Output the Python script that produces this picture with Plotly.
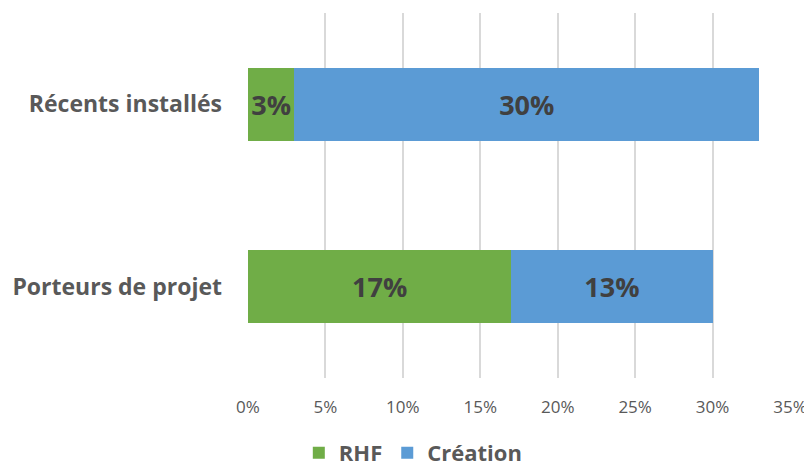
import plotly.graph_objects as go

categories = ["Porteurs de projet", "Récents installés"]
rhf = [17, 3]
creation = [13, 30]
series_names = ["RHF", "Création"]
tick_vals = [0, 5, 10, 15, 20, 25, 30, 35]

FONT = "Open Sans"
fig = go.Figure()
for name, vals, color in [(series_names[0], rhf, "#70AD47"), (series_names[1], creation, "#5B9BD5")]:
    fig.add_trace(go.Bar(
        y=categories, x=vals, name=name, orientation="h",
        marker=dict(color=color, line=dict(width=0)),
        text=[f"{v}%" for v in vals], textposition="inside",
        insidetextanchor="middle", constraintext="none",
        textfont=dict(family=FONT, size=27, color="#404040", weight="bold"),
    ))

# page body has an 8px margin, so the figure is 8px smaller and offset
fig.update_layout(
    barmode="stack", bargap=0.6,
    width=804, height=459,
    margin=dict(l=240, r=22, t=5, b=89, autoexpand=False),
    plot_bgcolor="white", paper_bgcolor="white",
    font=dict(family=FONT, color="#595959"),
    legend=dict(orientation="h", x=0.305, xanchor="center", y=-0.205, yanchor="middle",
                font=dict(family=FONT, size=22, color="#595959", weight="bold"),
                traceorder="normal", tracegroupgap=0),
    xaxis=dict(range=[0, 35], tickvals=tick_vals, ticktext=[f"{v}%" for v in tick_vals],
               showgrid=True, gridcolor="#D9D9D9", gridwidth=1.5,
               zeroline=False, showline=False, automargin=False,
               tickfont=dict(family=FONT, size=17, color="#595959"),
               ticklabelstandoff=17),
    yaxis=dict(tickfont=dict(family=FONT, size=23, color="#595959", weight="bold"),
               ticklabelstandoff=25, showgrid=False, zeroline=False, showline=False,
               automargin=False),
)
fig.write_html("out.html")
